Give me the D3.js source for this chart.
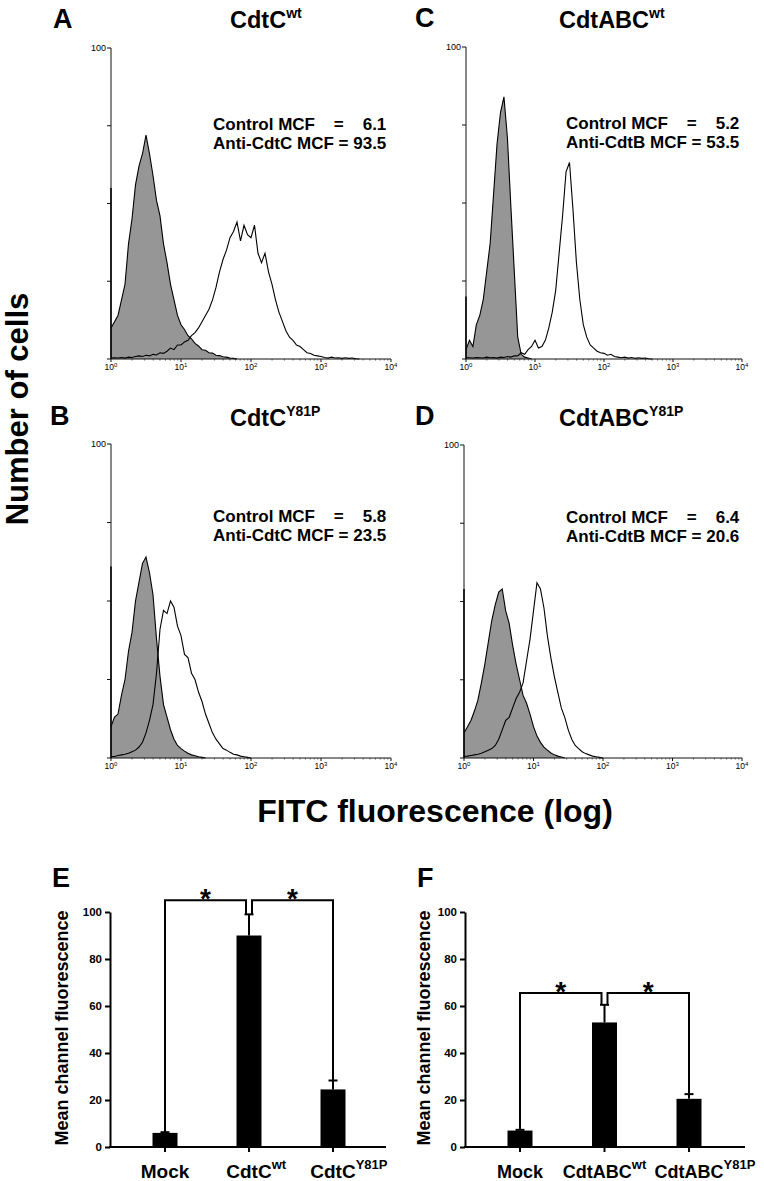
<!DOCTYPE html>
<html><head><meta charset="utf-8">
<script src="https://cdn.jsdelivr.net/npm/d3@7"></script>
<style>
body{margin:0;background:#fff}
svg{display:block}
text{font-family:"Liberation Sans",Arial,Helvetica,sans-serif}
</style>
</head><body>
<svg id="fig" width="764" height="1181"></svg>
<script>
// ---------- DATA ----------
// Histogram channels: one value every 0.05 decade starting at 10^0, in % of full scale
const STEP = 0.05;
const ctrlA = [10,12,14,19,24,37,45,56,62,66,72,66,59,51,46,37,31,24,19,14,11,9.5,7.5,6.5,5,4.2,3,2.8,2,1.9,1.2,1.1,0.7,0.6,0.3,0.2,0];
const antiA = [0.3,0.4,0.3,0.5,0.3,0.6,0.5,0.8,1,0.8,1.2,1,1.5,1.3,2,1.8,2.5,3.5,3,4.5,4.5,5.5,6,7.5,8.5,10,12,14,16,19,23,28,32,35,39,41,44,38,43,40,39,43,34,31,34,28,24,19,15,12,9,7,6,4.5,4,3,2,1.8,1.2,1,0.8,0.5,0.3,0.6,0.3,0.4,0.2,0.4,0.2,0.3,0.1,0];
const ctrlB = [10,13,14,20,25,34,40,50,56,62,64,59,52,38,26,17,13,9,6,4,3,2.2,1.5,1,0.7,0.4,0.2,0];
const antiB = [0.5,0.5,0.8,1,1.2,1.5,2,2.5,3.5,5,8,12,17,27,41,47,46,50,48,42,39,33,32,27,25,21,18,14,11,8,6,4.5,3,2.5,1.8,1.2,1,0.6,0.4,0.2,0];
const ctrlC = [3,6,4,11,14,19,28,37,53,69,79,84,71,49,28,7,1.5,0.6,0.3,0];
const antiC = [0.5,0.4,0.3,0.5,0.4,0.3,0.6,0.4,0.5,0.3,0.6,0.5,0.8,0.6,1,1,2,1.5,3,4,6,3.5,4,6,10,15,22,34,46,60,63,48,31,19,11,7,4.5,3.5,2.5,2,1.8,1.2,1.5,0.8,0.6,0.4,0.6,0.3,0.5,0.2,0.4,0.2,0.3,0.1,0];
const ctrlD = [8,10,12,15,18.5,24,30,37,44,49,53,54,47,43,36,30,25,20,17.5,14,10,7,5,3.5,2.5,1.6,1,0.6,0.3,0];
const antiD = [0.5,0.6,0.8,1,1.2,1.5,2,2.5,3,4,6,9,12,13,16,19,21,24,31,38,47,56,54,48,39,32,26,21,16,13,9,6,4,3,2,1.4,1,0.6,0.4,0.2,0];
const channelZeroSpike = [55, 61, 20, 54]; // A, B, C, D

const panelLetters = ["A","B","C","D"];
const panelTitles = ["CdtC","CdtC","CdtABC","CdtABC"];
const panelTitleSups = ["wt","Y81P","wt","Y81P"];
const antibodyNames = ["Anti-CdtC","Anti-CdtC","Anti-CdtB","Anti-CdtB"];
const controlMCF = ["6.1","5.8","5.2","6.4"];
const antiMCF = ["93.5","23.5","53.5","20.6"];
const logTicks = [0,1,2,3,4];
const countTicks = [0,25,50,75,100];

// Bar charts (E, F)
const catsE = ["Mock","CdtC","CdtC"];
const supsE = ["","wt","Y81P"];
const valsE = [6, 90, 24.5];
const errsE = [0.3, 9, 3.8];
const sigLevelE = 105;
const catsF = ["Mock","CdtABC","CdtABC"];
const supsF = ["","wt","Y81P"];
const valsF = [7, 53, 20.5];
const errsF = [0.3, 7.5, 2];
const sigLevelF = 65.5;
const barTicks = [0,20,40,60,80,100];

// ---------- DRAWING ----------
const svg = d3.select("#fig");
svg.append("rect").attr("width",764).attr("height",1181).attr("fill","#fff");

const histLayout = [
  {x0:111,x1:391,yTop:48, yBase:359, lx:53, ly:28, tx:230, ty:28, nx:213, ny:130},
  {x0:111,x1:391,yTop:444,yBase:758, lx:50, ly:425,tx:230, ty:426,nx:213, ny:522},
  {x0:466,x1:742,yTop:47, yBase:359, lx:415,ly:27, tx:559, ty:28, nx:566, ny:129},
  {x0:464,x1:742,yTop:445,yBase:758, lx:415,ly:425,tx:559, ty:426,nx:566, ny:523}
];
const ctrls = [ctrlA, ctrlB, ctrlC, ctrlD];
const antis = [antiA, antiB, antiC, antiD];

function measure(txt, size, weight){
  const t = svg.append("text").attr("font-size",size).attr("font-weight",weight).text(txt);
  const w = t.node().getComputedTextLength();
  t.remove();
  return w;
}

histLayout.forEach((L, p) => {
  const g = svg.append("g");
  const x = d3.scaleLinear().domain([0,4]).range([L.x0, L.x1]);
  const y = d3.scaleLinear().domain([0,100]).range([L.yBase, L.yTop]);

  const area = d3.area().x((d,i)=>x(i*STEP)).y0(y(0)).y1(d=>y(d));
  const line = d3.line().x((d,i)=>x(i*STEP)).y(d=>y(d));
  g.append("path").datum(ctrls[p]).attr("d",area).attr("fill","#969696");
  g.append("path").datum(ctrls[p]).attr("d",line).attr("fill","none").attr("stroke","#000").attr("stroke-width",1.1);
  g.append("path").datum(antis[p]).attr("d",line).attr("fill","none").attr("stroke","#000").attr("stroke-width",1.1);
  g.append("line").attr("x1",x(0)).attr("x2",x(0)).attr("y1",y(0)).attr("y2",y(channelZeroSpike[p]))
    .attr("stroke","#000").attr("stroke-width",1.6);

  g.append("line").attr("x1",x(0)).attr("x2",x(0)).attr("y1",y(0)).attr("y2",y(100)).attr("stroke","#111").attr("stroke-width",1);
  countTicks.forEach(t => {
    g.append("line").attr("x1",x(0)-4).attr("x2",x(0)).attr("y1",y(t)).attr("y2",y(t)).attr("stroke","#111").attr("stroke-width",1);
  });
  g.append("text").attr("x",x(0)-5).attr("y",y(100)+3).attr("text-anchor","end").attr("font-size",9).text("100");

  g.append("line").attr("x1",x(0)).attr("x2",x(4)).attr("y1",y(0)).attr("y2",y(0)).attr("stroke","#111").attr("stroke-width",1);
  logTicks.forEach(t => {
    g.append("line").attr("x1",x(t)).attr("x2",x(t)).attr("y1",y(0)).attr("y2",y(0)+3).attr("stroke","#111").attr("stroke-width",1);
    if (t < 4) d3.range(2,10).forEach(k => {
      const xx = x(t + Math.log10(k));
      g.append("line").attr("x1",xx).attr("x2",xx).attr("y1",y(0)).attr("y2",y(0)+1.5).attr("stroke","#333").attr("stroke-width",0.8);
    });
    const lab = g.append("text").attr("x",x(t)).attr("y",y(0)+11).attr("text-anchor","middle").attr("font-size",8.5);
    lab.append("tspan").text("10");
    lab.append("tspan").attr("dy",-3).attr("font-size",6).text(String(t));
  });

  svg.append("text").attr("x",L.lx).attr("y",L.ly).attr("font-size",27).attr("font-weight","bold").text(panelLetters[p]);
  const tt = svg.append("text").attr("x",L.tx).attr("y",L.ty).attr("font-size",23.5).attr("font-weight","bold");
  tt.append("tspan").text(panelTitles[p]);
  tt.append("tspan").attr("dy",-10).attr("font-size",14).text(panelTitleSups[p]);

  const fs = 17;
  const line2 = `${antibodyNames[p]} MCF = ${antiMCF[p]}`;
  const wEq = measure(`${antibodyNames[p]} MCF `, fs, "bold");
  const wAll = measure(line2, fs, "bold");
  const n = svg.append("g").attr("font-size",fs).attr("font-weight","bold");
  n.append("text").attr("x",L.nx).attr("y",L.ny).text("Control MCF");
  n.append("text").attr("x",L.nx+wEq).attr("y",L.ny).text("=");
  n.append("text").attr("x",L.nx+wAll).attr("y",L.ny).attr("text-anchor","end").text(controlMCF[p]);
  n.append("text").attr("x",L.nx).attr("y",L.ny+18.5).text(line2);
});

svg.append("text").attr("transform","translate(28,409) rotate(-90)").attr("text-anchor","middle")
  .attr("font-size",31).attr("font-weight","bold").text("Number of cells");
svg.append("text").attr("x",435).attr("y",822).attr("text-anchor","middle")
  .attr("font-size",32).attr("font-weight","bold").text("FITC fluorescence (log)");

// ---------- bar charts ----------
function drawBars(cfg, cats, sups, vals, errs, sig) {
  const g = svg.append("g");
  const x = d3.scalePoint().domain(d3.range(cats.length)).range([cfg.c0, cfg.c1]);
  const y = d3.scaleLinear().domain([0,100]).range([1147, 912]);

  const yAxis = d3.axisLeft(y).tickValues(barTicks).tickSize(5).tickSizeOuter(0).tickPadding(3);
  const ya = g.append("g").attr("transform",`translate(${cfg.ax},0)`).call(yAxis);
  ya.select(".domain").attr("stroke","#000").attr("stroke-width",2);
  ya.selectAll(".tick line").attr("stroke","#000").attr("stroke-width",2);
  ya.selectAll(".tick text").attr("font-size",11.5).attr("font-weight","bold").attr("fill","#000")
    .attr("font-family",'"Liberation Sans",Arial,sans-serif');

  g.append("line").attr("x1",cfg.ax-1).attr("x2",cfg.axEnd).attr("y1",y(0)).attr("y2",y(0)).attr("stroke","#000").attr("stroke-width",2);
  cats.forEach((c,i) => {
    g.append("line").attr("x1",x(i)).attr("x2",x(i)).attr("y1",y(0)).attr("y2",y(0)+5).attr("stroke","#000").attr("stroke-width",2);
  });

  const bw = 25;
  g.selectAll("rect.bar").data(vals).join("rect").attr("class","bar")
    .attr("x",(d,i)=>x(i)-bw/2).attr("width",bw).attr("y",d=>y(d)).attr("height",d=>y(0)-y(d)).attr("fill","#000");

  vals.forEach((v,i) => {
    g.append("line").attr("x1",x(i)).attr("x2",x(i)).attr("y1",y(v)).attr("y2",y(v+errs[i])).attr("stroke","#000").attr("stroke-width",2);
    g.append("line").attr("x1",x(i)-4.5).attr("x2",x(i)+4.5).attr("y1",y(v+errs[i])).attr("y2",y(v+errs[i])).attr("stroke","#000").attr("stroke-width",2);
  });

  const top1 = y(vals[1]+errs[1]);
  const p = d3.path();
  p.moveTo(x(0), y(vals[0])); p.lineTo(x(0), y(sig)); p.lineTo(x(1)-3, y(sig)); p.lineTo(x(1)-3, top1);
  p.moveTo(x(1)+3, top1); p.lineTo(x(1)+3, y(sig)); p.lineTo(x(2), y(sig)); p.lineTo(x(2), y(vals[2]+errs[2]));
  g.append("path").attr("d",p.toString()).attr("fill","none").attr("stroke","#000").attr("stroke-width",2);
  [[x(0), x(1)-3],[x(1)+3, x(2)]].forEach(([a,b]) => {
    g.append("text").attr("x",(a+b)/2).attr("y",y(sig)+8).attr("text-anchor","middle")
      .attr("font-size",28).attr("font-weight","bold").text("*");
  });

  cats.forEach((c,i) => {
    const t = g.append("text").attr("y",1178).attr("font-size",cfg.labelSize).attr("font-weight","bold");
    const base = t.append("tspan").text(c);
    if (sups[i]) t.append("tspan").attr("dy",-9).attr("font-size",13).text(sups[i]);
    const w = cfg.wholeCentre[i] ? t.node().getComputedTextLength() : base.node().getComputedTextLength();
    t.attr("x", x(i) - w/2);
  });

  g.append("text").attr("transform",`translate(${cfg.titleX},1028) rotate(-90)`).attr("text-anchor","middle")
    .attr("font-size",18).attr("font-weight","bold").text("Mean channel fluorescence");
  svg.append("text").attr("x",cfg.lx).attr("y",887).attr("font-size",27).attr("font-weight","bold").text(cfg.letter);
}

drawBars({ax:110, axEnd:386, c0:165, c1:333, titleX:68, lx:52, letter:"E", labelSize:19, wholeCentre:[false,false,false]},
  catsE, supsE, valsE, errsE, sigLevelE);
drawBars({ax:465, axEnd:745, c0:520, c1:689, titleX:430, lx:417, letter:"F", labelSize:18, wholeCentre:[false,true,false]},
  catsF, supsF, valsF, errsF, sigLevelF);
</script>
</body></html>
